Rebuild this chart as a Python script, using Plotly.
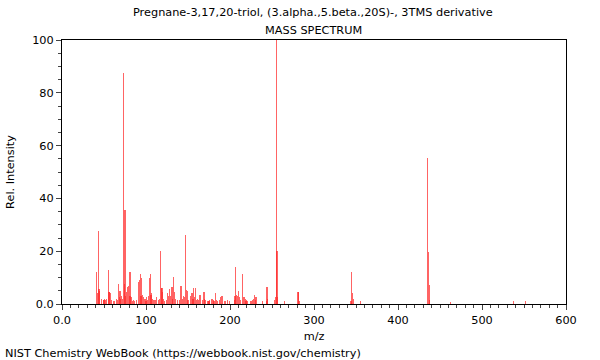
import plotly.graph_objects as go

mz = [41, 42, 43, 44, 45, 47, 49, 50, 51, 52, 53, 55, 56, 57, 58, 59, 61, 63, 65, 66,
      67, 68, 69, 70, 71, 72, 73, 74, 75, 76, 77, 78, 79, 80, 81, 82, 83, 84, 85, 86,
      89, 91, 92, 93, 94, 95, 96, 97, 98, 99, 100, 101, 102, 103, 104, 105, 106, 107, 108, 109,
      110, 111, 112, 115, 116, 117, 118, 119, 120, 121, 122, 124, 126, 127, 128, 129, 131, 132, 133, 134,
      135, 137, 140, 141, 142, 143, 145, 146, 147, 148, 149, 150, 153, 154, 155, 156, 157, 158, 159, 160,
      161, 163, 164, 165, 167, 169, 170, 171, 173, 174, 175, 176, 178, 179, 180, 181, 183, 184, 185, 187,
      189, 190, 191, 193, 195, 197, 199, 205, 206, 207, 208, 209, 210, 211, 213, 215, 216, 217, 218, 219,
      220, 221, 225, 227, 228, 229, 230, 231, 239, 243, 244, 245, 253, 254, 255, 256, 257, 265, 281, 282,
      283, 344, 345, 346, 347, 355, 435, 436, 437, 438, 462, 537, 552]
intensity = [12, 4, 27.5, 5.5, 5, 2, 1.5, 1.5, 2, 1.5, 2, 13, 4.5, 4.5, 4, 1.5, 1, 1, 2, 1.5,
             7.5, 2.5, 5, 2, 3, 2, 87.5, 7.5, 35.5, 3, 4.5, 6.5, 7, 3, 12, 3, 2.5, 1, 1.5, 1,
             1.5, 8.5, 9, 11.5, 3, 10, 3.5, 2.5, 2, 2, 1, 2.5, 1.5, 3, 9.8, 11.2, 3.5, 4, 2, 1.5,
             1.5, 1.5, 2.5, 1.5, 2, 20, 6.2, 6, 4.5, 2, 1, 1.5, 4, 3, 5.5, 3, 6.5, 2, 10.3, 4.5,
             2, 1.5, 1.5, 6.7, 6.7, 2, 3, 2.5, 26, 5.3, 5, 1.5, 3, 4, 4, 2, 6.2, 2.5, 6.2, 1.5,
             2, 1.5, 3.3, 3.3, 1.5, 4.5, 2, 1.5, 1, 1, 1, 1.5, 2, 2, 1.5, 1, 4, 1.5, 1, 1.5,
             2.5, 3, 3, 1, 1, 1.5, 1, 1.5, 3, 14, 3.5, 3, 5, 2.5, 1.5, 11.5, 2.5, 2.5, 2, 1,
             1.5, 1, 1, 1.5, 2, 3.5, 1.5, 2.5, 1, 1, 6.5, 2, 1.5, 2.5, 100, 20.2, 2.5, 1, 4.5, 4.5,
             1, 1, 12.3, 4, 2, 1, 55.4, 19.8, 7.2, 1.5, 0.8, 1, 1.2]

x_tickvals = [0, 100, 200, 300, 400, 500, 600]
x_ticktext = ["0.0", "100", "200", "300", "400", "500", "600"]
y_tickvals = [0, 20, 40, 60, 80, 100]
y_ticktext = ["0.0", "20", "40", "60", "80", "100"]

font = "DejaVu Sans, sans-serif"
fs = 11.3

fig = go.Figure()
fig.add_trace(go.Bar(x=mz, y=intensity, width=1.3,
                     marker=dict(color="rgba(255,40,40,0.72)", line=dict(width=0))))

fig.update_layout(
    width=600, height=360,
    margin=dict(l=62, r=34, t=40, b=56),
    paper_bgcolor="white", plot_bgcolor="white",
    showlegend=False,
    bargap=0,
    font=dict(family=font, size=fs, color="black"),
    annotations=[
        dict(text="Pregnane-3,17,20-triol, (3.alpha.,5.beta.,20S)-, 3TMS derivative",
             x=(313 - 62) / 504, xref="paper", y=(304 - 13) / 264, yref="paper",
             showarrow=False, yanchor="middle", font=dict(family=font, size=fs)),
        dict(text="MASS SPECTRUM", x=(313 - 62) / 504, xref="paper",
             y=(304 - 30) / 264, yref="paper", yanchor="middle",
             showarrow=False, font=dict(family=font, size=fs)),
        dict(text="NIST Chemistry WebBook (https://webbook.nist.gov/chemistry)",
             x=(3 - 62) / 504, xref="paper", y=(304 - 353) / 264, yref="paper",
             showarrow=False, xanchor="left", yanchor="middle",
             font=dict(family=font, size=fs)),
    ],
)

fig.update_xaxes(range=[0, 600], tickvals=x_tickvals, ticktext=x_ticktext,
                 ticks="outside", ticklen=5, tickcolor="#444", automargin=False,
                 showline=True, linecolor="black", linewidth=1, mirror=True,
                 showgrid=False, zeroline=False,
                 minor=dict(dtick=10, ticks="outside", ticklen=3, tickcolor="#444"),
                 title=dict(text="m/z", font=dict(family=font, size=fs), standoff=6))
fig.update_yaxes(range=[0, 100], tickvals=y_tickvals, ticktext=y_ticktext,
                 ticks="outside", ticklen=5, tickcolor="#444", automargin=False,
                 showline=True, linecolor="black", linewidth=1, mirror=True,
                 showgrid=False, zeroline=False,
                 minor=dict(dtick=5, ticks="outside", ticklen=3, tickcolor="#444"),
                 title=dict(text="Rel. Intensity", font=dict(family=font, size=fs), standoff=15))

fig.write_html("out.html", config={"displayModeBar": False},
               post_script="document.body.style.margin='0';")
